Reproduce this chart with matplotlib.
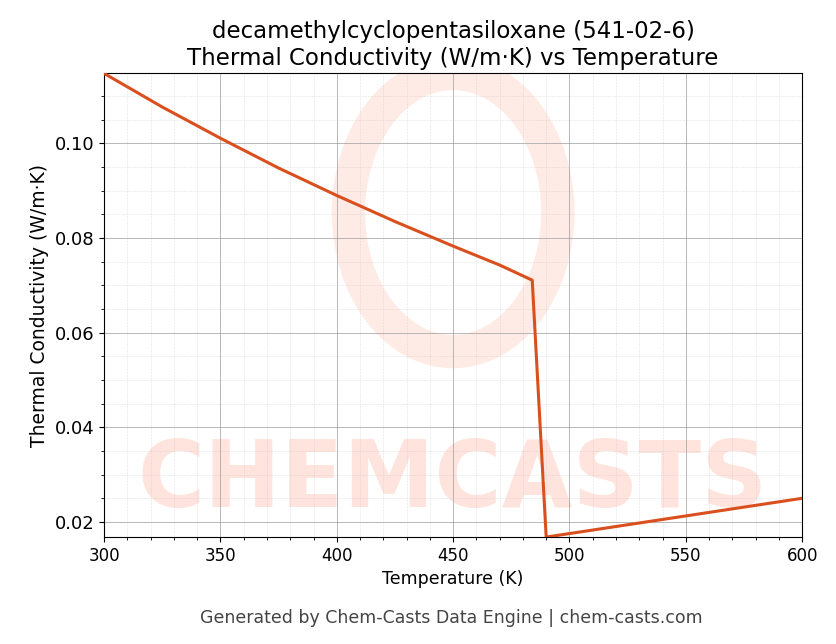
import matplotlib
matplotlib.use("Agg")
import matplotlib.pyplot as plt
from matplotlib.ticker import AutoMinorLocator

temps = [300, 325, 350, 375, 400, 425, 450, 470, 484, 490, 600]
cond = [0.1148, 0.1077, 0.1011, 0.0948, 0.0890, 0.0835, 0.0783, 0.0743, 0.0711, 0.0168, 0.0250]

fig = plt.figure(figsize=(8.36, 6.44), dpi=100)
ax = fig.add_axes([0.1245, 0.166, 0.835, 0.72])
ax.set_xlim(300, 600)
ax.set_ylim(0.0168, 0.1148)

# watermark
ax.text(0.5, 0.12, "CHEMCASTS", transform=ax.transAxes, ha="center", va="center",
        fontsize=66, fontweight="bold", color="#ffd9d0", alpha=0.7, zorder=0, clip_on=True)
circ = matplotlib.patches.Ellipse((0.5, 0.7), 0.3, 0.6, transform=ax.transAxes,
                                  fill=False, lw=24, ec="#ffe3dc", alpha=0.7, zorder=0)
ax.add_patch(circ)

ax.plot(temps, cond, color="#d9501e", lw=2.2, zorder=3)
ax.xaxis.set_minor_locator(AutoMinorLocator(5))
ax.yaxis.set_minor_locator(AutoMinorLocator(4))
ax.grid(which="major", color="#999999", lw=0.6, alpha=0.8)
ax.grid(which="minor", color="#bbbbbb", lw=0.4, ls=":", alpha=0.8)
ax.tick_params(axis="x", labelsize=12)
ax.tick_params(axis="y", labelsize=13)
ax.set_xlabel("Temperature (K)", fontsize=12.5)
ax.set_ylabel("Thermal Conductivity (W/m·K)", fontsize=13.5)
ax.set_title("decamethylcyclopentasiloxane (541-02-6)\nThermal Conductivity (W/m·K) vs Temperature",
             fontsize=16.5, pad=6)
fig.text(0.54, 0.032, "Generated by Chem-Casts Data Engine | chem-casts.com", ha="center",
         fontsize=12.5, color="#444444")
fig.savefig("out.png", dpi=100)
